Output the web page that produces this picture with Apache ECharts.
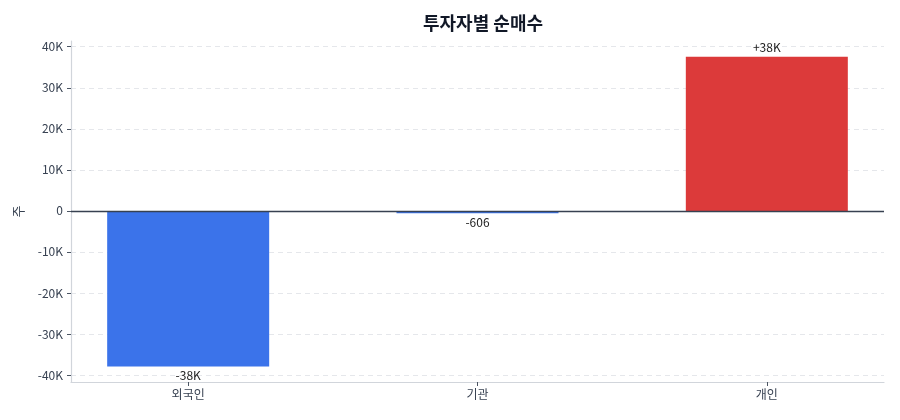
<!DOCTYPE html>
<html>
<head>
<meta charset="utf-8">
<script src="https://cdn.jsdelivr.net/npm/echarts@6/dist/echarts.min.js"></script>
<style>
html,body{margin:0;padding:0;background:#fff;}
#chart{width:900px;height:420px;}
</style>
</head>
<body>
<div id="chart"></div>
<script>
const categories = ['외국인', '기관', '개인'];
const netBuy = [-37900, -606, 37560];
const barLabels = ['-38K', '-606', '+38K'];
const yTickValues = [-40000, -30000, -20000, -10000, 0, 10000, 20000, 30000, 40000];
const yTickLabels = ['-40K', '-30K', '-20K', '-10K', '0', '10K', '20K', '30K', '40K'];
const xTickValues = [0, 1, 2];

const FONT = '"Noto Sans CJK KR", "Noto Sans", sans-serif';
const BLUE = '#3b73ea';
const RED = '#dc3a3a';

const chart = echarts.init(document.getElementById('chart'), null, {renderer: 'canvas'});
chart.setOption({
  animation: false,
  backgroundColor: '#ffffff',
  textStyle: {fontFamily: FONT},
  title: {
    text: '투자자별 순매수',
    left: 478, textAlign: 'center', top: 9,
    textStyle: {fontFamily: FONT, fontSize: 18, fontWeight: 'bold', color: '#111827'}
  },
  grid: {left: 71, right: 16, top: 41, bottom: 38, containLabel: false},
  xAxis: {
    type: 'value',
    min: -0.405, max: 2.405,
    axisLine: {show: true, onZero: false, lineStyle: {color: '#d1d5db', width: 1.2}},
    axisTick: {show: true, customValues: xTickValues, length: 4, lineStyle: {color: '#4b5563'}},
    axisLabel: {
      customValues: xTickValues,
      formatter: v => categories[Math.round(v)] || '',
      color: '#374151', fontSize: 12, fontFamily: FONT, margin: 6
    },
    splitLine: {show: false}
  },
  yAxis: {
    type: 'value',
    min: -41700, max: 41400,
    name: '주', nameLocation: 'middle', nameRotate: 90, nameGap: 46,
    nameTextStyle: {color: '#374151', fontSize: 13, fontFamily: FONT},
    axisLine: {show: true, onZero: false, lineStyle: {color: '#d1d5db', width: 1.2}},
    axisTick: {show: true, customValues: yTickValues, length: 4, lineStyle: {color: '#4b5563'}},
    axisLabel: {
      customValues: yTickValues,
      formatter: v => yTickLabels[yTickValues.indexOf(Math.round(v))] ?? '',
      color: '#374151', fontSize: 12, fontFamily: FONT, margin: 8
    },
    splitLine: {show: true, lineStyle: {color: '#e5e7eb', type: [5, 4], width: 1}}
  },
  series: [{
    type: 'bar',
    barWidth: 162,
    data: netBuy.map((v, i) => ({
      value: [i, v],
      itemStyle: {color: v < 0 ? BLUE : RED},
      label: {
        show: true,
        position: v < 0 ? 'bottom' : 'top',
        distance: 3,
        formatter: () => barLabels[i],
        color: '#222222', fontSize: 12, fontFamily: FONT
      }
    })),
    markLine: {
      silent: true, symbol: 'none',
      label: {show: false},
      lineStyle: {color: '#374151', width: 1.3, type: 'solid'},
      data: [{yAxis: 0}]
    }
  }]
});
</script>
</body>
</html>
